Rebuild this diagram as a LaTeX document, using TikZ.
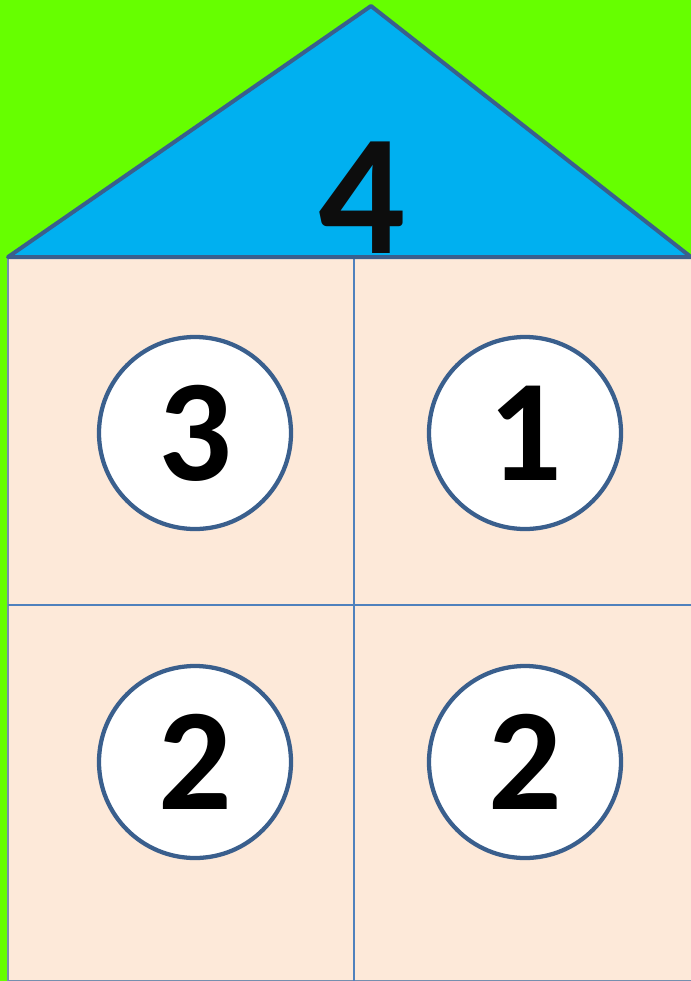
\documentclass[tikz,border=0pt]{standalone}
\usepackage{fontspec}
\setmainfont{Carlito}
\newfontfamily\digitfont{Carlito Bold}
\usetikzlibrary{positioning}

\definecolor{grass}{HTML}{66FF00}
\definecolor{roofblue}{HTML}{00B0F0}
\definecolor{edgeblue}{HTML}{3A5F8D}
\definecolor{gridblue}{HTML}{4F81BD}
\definecolor{wallpeach}{HTML}{FDE9D9}

\begin{document}
\begin{tikzpicture}[x=0.75pt, y=-0.75pt]
    \tikzstyle{number} = [circle, draw=edgeblue, line width=3.2pt, fill=white, minimum size=144pt, inner sep=0pt, font=\fontsize{109}{109}\digitfont]
    \tikzstyle{roofnum} = [inner sep=0pt, text=black!95, font=\fontsize{129}{129}\digitfont]

    % background and house
    \fill[grass] (0,0) rectangle (691,981);
    \useasboundingbox (0,0) rectangle (691,981);
    \fill[wallpeach] (8,257) rectangle (691,981);
    \draw[edgeblue!70, line width=1.2pt] (8,257) -- (8,981) -- (691,981);
    \draw[gridblue, line width=1pt] (354,257) -- (354,981);
    \draw[gridblue, line width=1pt] (8,605) -- (691,605);
    \filldraw[fill=roofblue, draw=edgeblue, line width=3pt, line join=round] (8,257) -- (371,6) -- (691,257) -- cycle;

    \node [roofnum] (top) at (362,198) {4};
    \node [number] (topleft) at (195,433) {3};
    \node [number] (topright) at (525,433) {1};
    \node [number] (bottomleft) at (195,762) {2};
    \node [number] (bottomright) at (525,762) {2};
\end{tikzpicture}
\end{document}
